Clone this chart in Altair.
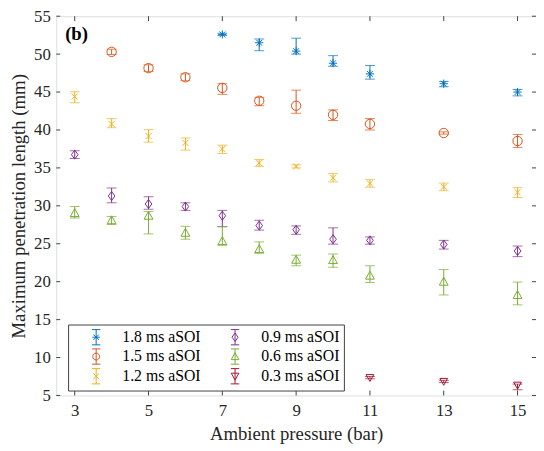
import altair as alt
import pandas as pd

# ---------------- data ----------------
x_ticks = [3, 5, 7, 9, 11, 13, 15]
y_ticks = [5, 10, 15, 20, 25, 30, 35, 40, 45, 50, 55]

p18 = [7, 8, 9, 10, 11, 13, 15]
v18 = [52.6, 51.5, 50.4, 48.8, 47.4, 46.1, 45.0]
lo18 = [52.45, 50.45, 50.0, 48.4, 46.7, 45.7, 44.5]
hi18 = [52.75, 52.0, 52.1, 49.8, 48.5, 46.4, 45.35]

p15 = [4, 5, 6, 7, 8, 9, 10, 11, 13, 15]
v15 = [50.3, 48.15, 46.95, 45.55, 43.85, 43.2, 42.0, 40.8, 39.6, 38.55]
lo15 = [49.95, 47.7, 46.5, 44.7, 43.2, 42.2, 41.25, 40.0, 39.45, 37.7]
hi15 = [50.65, 48.6, 47.4, 46.1, 44.3, 45.25, 42.65, 41.5, 39.75, 39.4]

p12 = [3, 4, 5, 6, 7, 8, 9, 10, 11, 13, 15]
v12 = [44.4, 40.8, 39.2, 38.3, 37.5, 35.65, 35.2, 33.7, 32.95, 32.5, 31.8]
lo12 = [43.6, 40.3, 38.4, 37.35, 36.9, 35.2, 35.0, 33.15, 32.45, 32.0, 31.1]
hi12 = [45.05, 41.5, 40.05, 38.95, 38.0, 36.1, 35.4, 34.25, 33.45, 33.0, 32.4]

p09 = [3, 4, 5, 6, 7, 8, 9, 10, 11, 13, 15]
v09 = [36.75, 31.3, 30.25, 29.9, 28.7, 27.4, 26.85, 25.6, 25.45, 24.9, 24.05]
lo09 = [36.25, 30.4, 29.55, 29.4, 27.25, 26.8, 26.25, 24.95, 24.95, 24.3, 23.3]
hi09 = [37.25, 32.35, 31.2, 30.4, 29.4, 28.1, 27.35, 27.1, 25.9, 25.45, 24.7]

p06 = [3, 4, 5, 6, 7, 8, 9, 10, 11, 13, 15]
v06 = [29.05, 28.1, 28.7, 26.45, 25.35, 24.3, 22.9, 22.85, 20.8, 20.0, 18.25]
lo06 = [28.4, 27.55, 26.3, 25.6, 24.8, 23.75, 22.1, 21.9, 19.9, 18.25, 16.95]
hi06 = [29.9, 28.6, 29.25, 27.3, 27.25, 25.25, 23.5, 23.65, 22.1, 21.6, 19.95]

p03 = [11, 13, 15]
v03 = [7.35, 6.85, 6.35]
lo03 = [7.2, 6.7, 5.75]
hi03 = [7.5, 7.0, 6.5]

names = ["1.8 ms aSOI", "1.5 ms aSOI", "1.2 ms aSOI",
         "0.9 ms aSOI", "0.6 ms aSOI", "0.3 ms aSOI"]
colors = ["#0072BD", "#D95319", "#EDB120", "#7E2F8E", "#77AC30", "#A2142F"]

# ---------------- styling ----------------
FONT = "Liberation Serif"
W, H = 487, 385
AX = "#404040"

marker_paths = [
    "M-1,0L1,0M0,-1L0,1M-0.7,-0.7L0.7,0.7M-0.7,0.7L0.7,-0.7",
    "circle",
    "M-0.75,-0.75L0.75,0.75M-0.75,0.75L0.75,-0.75",
    "M0,-1.1L0.8,0L0,1.1L-0.8,0Z",
    "M0,-1L1,0.8L-1,0.8Z",
    "M0,1L1,-0.8L-1,-0.8Z",
]
marker_sizes = [70, 90, 64, 70, 80, 60]

EB = "M-0.55,-1L0.55,-1M0,-1L0,1M-0.55,1L0.55,1"
legend_paths = [
    EB + "M-0.5,0L0.5,0M-0.35,-0.35L0.35,0.35M-0.35,0.35L0.35,-0.35",
    EB + "M-0.45,0A0.45,0.45 0 1,1 0.45,0A0.45,0.45 0 1,1 -0.45,0Z",
    EB + "M-0.38,-0.38L0.38,0.38M-0.38,0.38L0.38,-0.38",
    EB + "M0,-0.55L0.4,0L0,0.55L-0.4,0Z",
    EB + "M0,-0.5L0.5,0.4L-0.5,0.4Z",
    EB + "M0,0.5L0.5,-0.4L-0.5,-0.4Z",
]

series = [
    (p18, v18, lo18, hi18),
    (p15, v15, lo15, hi15),
    (p12, v12, lo12, hi12),
    (p09, v09, lo09, hi09),
    (p06, v06, lo06, hi06),
    (p03, v03, lo03, hi03),
]

xscale = alt.Scale(domain=[2.5, 15.5], nice=False, zero=False)
yscale = alt.Scale(domain=[5, 55], nice=False, zero=False)
XT = "Ambient pressure (bar)"
YT = "Maximum penetration length (mm)"
xaxis = alt.Axis(values=x_ticks, tickSize=0, domain=False, grid=False,
                 labelFont=FONT, labelFontSize=17, labelColor="#262626",
                 labelPadding=7, titleFont=FONT, titleFontSize=19,
                 titleFontWeight="normal", titleColor="#262626", titlePadding=7)
yaxis = alt.Axis(values=y_ticks, tickSize=0, domain=False, grid=False,
                 labelFont=FONT, labelFontSize=17, labelColor="#262626",
                 labelPadding=6, titleFont=FONT, titleFontSize=19,
                 titleFontWeight="normal", titleColor="#262626", titlePadding=5)


def X(f):
    return alt.X(f + ":Q", scale=xscale, axis=xaxis, title=XT)


def Y(f):
    return alt.Y(f + ":Q", scale=yscale, axis=yaxis, title=YT)


layers = []
frames = []
for i, (px, pv, plo, phi) in enumerate(series):
    d = pd.DataFrame({"pressure": px, "value": pv, "low": plo, "high": phi,
                      "series": names[i]})
    frames.append(d)
    c = colors[i]
    base = alt.Chart(d)
    layers.append(base.mark_rule(color=c, strokeWidth=1).encode(
        x=X("pressure"), y=Y("low"), y2="high:Q"))
    layers.append(base.mark_tick(color=c, orient="horizontal", size=10,
                                 thickness=1).encode(x=X("pressure"), y=Y("low")))
    layers.append(base.mark_tick(color=c, orient="horizontal", size=10,
                                 thickness=1).encode(x=X("pressure"), y=Y("high")))
    layers.append(base.mark_point(shape=marker_paths[i], size=marker_sizes[i],
                                  filled=False, color=c, strokeWidth=1,
                                  opacity=1).encode(x=X("pressure"), y=Y("value")))

alldf = pd.concat(frames, ignore_index=True)

leg = alt.Legend(orient="none", legendX=12, legendY=313, columns=2, title=None,
                 strokeColor="#404040", fillColor="white", padding=4,
                 symbolSize=240, symbolStrokeWidth=1, symbolOffset=16,
                 labelOffset=18, columnPadding=10, rowPadding=-1,
                 labelFont=FONT, labelFontSize=16, labelColor="black",
                 symbolType="circle")

legend_layer = alt.Chart(alldf).mark_point(size=0, filled=False, strokeWidth=1,
                                           opacity=1).encode(
    x=X("pressure"), y=Y("value"),
    color=alt.Color("series:N", scale=alt.Scale(domain=names, range=colors),
                    legend=leg),
    shape=alt.Shape("series:N", scale=alt.Scale(domain=names, range=legend_paths),
                    legend=leg),
)

# inward tick marks on all four sides
xt = pd.DataFrame({"t": x_ticks})
yt = pd.DataFrame({"t": y_ticks})
ticks = [
    alt.Chart(xt).mark_rule(color=AX, strokeWidth=1).encode(
        x=X("t"), y=alt.value(H), y2=alt.value(H - 5)),
    alt.Chart(xt).mark_rule(color=AX, strokeWidth=1).encode(
        x=X("t"), y=alt.value(0), y2=alt.value(5)),
    alt.Chart(yt).mark_rule(color=AX, strokeWidth=1).encode(
        y=Y("t"), x=alt.value(0), x2=alt.value(4)),
    alt.Chart(yt).mark_rule(color=AX, strokeWidth=1).encode(
        y=Y("t"), x=alt.value(W), x2=alt.value(W - 4)),
]

label_b = alt.Chart(pd.DataFrame({"t": ["(b)"]})).mark_text(
    font=FONT, fontSize=19, fontWeight="bold", align="left", baseline="middle",
    color="black").encode(x=alt.value(9), y=alt.value(18), text="t:N")

chart = alt.layer(*ticks, *layers, legend_layer, label_b).properties(
    width=W, height=H,
    autosize=alt.AutoSizeParams(type="none"),
    padding={"left": 49, "top": 5, "right": 0, "bottom": 50},
).configure_view(stroke=AX, strokeWidth=1).configure(
    background="white", font=FONT
).configure_axis(labelFont=FONT, titleFont=FONT)

chart.save("out.html", embed_options={"renderer": "svg", "actions": False})
